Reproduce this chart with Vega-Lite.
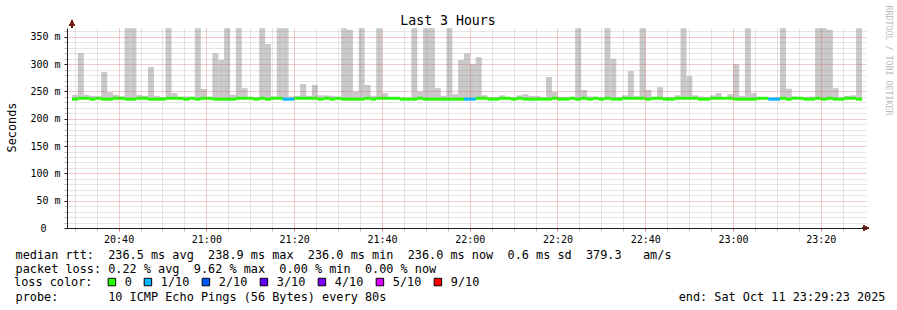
{
"$schema": "https://vega.github.io/schema/vega-lite/v6.json",
"width": 800, "height": 200,
"autosize": {"type": "none"},
"padding": {"left": 67, "top": 28, "right": 30, "bottom": 82},
"background": "#ffffff",
"config": {"view": {"stroke": null}, "font": "DejaVu Sans Mono"},
"title": {"text": "Last 3 Hours", "font": "DejaVu Sans Mono", "fontSize": 13.2, "fontWeight": "normal", "color": "#000000", "anchor": "middle", "frame": "group", "dx": -19, "dy": 37, "offset": 4, "baseline": "alphabetic"},
"data": {"values": [
{"t":"2025-10-11T20:30:03","h":244,"m":235.9,"l":0},
{"t":"2025-10-11T20:31:23","h":320.5,"m":237.6,"l":0},
{"t":"2025-10-11T20:32:43","h":244,"m":237.6,"l":0},
{"t":"2025-10-11T20:34:03","h":242,"m":235.9,"l":0},
{"t":"2025-10-11T20:35:23","h":241,"m":237.6,"l":0},
{"t":"2025-10-11T20:36:43","h":285.7,"m":235.9,"l":0},
{"t":"2025-10-11T20:38:03","h":249,"m":235.9,"l":0},
{"t":"2025-10-11T20:39:23","h":244,"m":237.6,"l":0},
{"t":"2025-10-11T20:40:43","h":241,"m":237.6,"l":0},
{"t":"2025-10-11T20:42:03","h":366,"m":235.9,"l":0},
{"t":"2025-10-11T20:43:23","h":366,"m":235.9,"l":0},
{"t":"2025-10-11T20:44:43","h":244,"m":237.6,"l":0},
{"t":"2025-10-11T20:46:03","h":242,"m":237.6,"l":0},
{"t":"2025-10-11T20:47:23","h":295,"m":235.9,"l":0},
{"t":"2025-10-11T20:48:43","h":242,"m":235.9,"l":0},
{"t":"2025-10-11T20:50:03","h":240,"m":235.9,"l":0},
{"t":"2025-10-11T20:51:23","h":366,"m":237.6,"l":0},
{"t":"2025-10-11T20:52:43","h":247,"m":237.6,"l":0},
{"t":"2025-10-11T20:54:03","h":240,"m":237.6,"l":0},
{"t":"2025-10-11T20:55:23","h":241,"m":235.9,"l":0},
{"t":"2025-10-11T20:56:43","h":240,"m":237.6,"l":0},
{"t":"2025-10-11T20:58:03","h":366,"m":235.9,"l":0},
{"t":"2025-10-11T20:59:23","h":254.6,"m":237.6,"l":0},
{"t":"2025-10-11T21:00:43","h":240,"m":237.6,"l":0},
{"t":"2025-10-11T21:02:03","h":320,"m":235.9,"l":0},
{"t":"2025-10-11T21:03:23","h":308,"m":235.9,"l":0},
{"t":"2025-10-11T21:04:43","h":366,"m":235.9,"l":0},
{"t":"2025-10-11T21:06:03","h":244,"m":235.9,"l":0},
{"t":"2025-10-11T21:07:23","h":366,"m":237.6,"l":0},
{"t":"2025-10-11T21:08:43","h":256,"m":237.6,"l":0},
{"t":"2025-10-11T21:10:03","h":240,"m":237.6,"l":0},
{"t":"2025-10-11T21:11:23","h":240,"m":235.9,"l":0},
{"t":"2025-10-11T21:12:43","h":366,"m":237.6,"l":0},
{"t":"2025-10-11T21:14:03","h":337,"m":235.9,"l":0},
{"t":"2025-10-11T21:15:23","h":241,"m":237.6,"l":0},
{"t":"2025-10-11T21:16:43","h":366,"m":237.6,"l":0},
{"t":"2025-10-11T21:18:03","h":366,"m":235.9,"l":1},
{"t":"2025-10-11T21:19:23","h":241,"m":235.9,"l":1},
{"t":"2025-10-11T21:20:43","h":242,"m":237.6,"l":0},
{"t":"2025-10-11T21:22:03","h":263.7,"m":237.6,"l":0},
{"t":"2025-10-11T21:23:23","h":242,"m":237.6,"l":0},
{"t":"2025-10-11T21:24:43","h":262,"m":237.6,"l":0},
{"t":"2025-10-11T21:26:03","h":243,"m":235.9,"l":0},
{"t":"2025-10-11T21:27:23","h":243,"m":237.6,"l":0},
{"t":"2025-10-11T21:28:43","h":242,"m":235.9,"l":0},
{"t":"2025-10-11T21:30:03","h":240,"m":237.6,"l":0},
{"t":"2025-10-11T21:31:23","h":366,"m":235.9,"l":0},
{"t":"2025-10-11T21:32:43","h":363,"m":235.9,"l":0},
{"t":"2025-10-11T21:34:03","h":250,"m":235.9,"l":0},
{"t":"2025-10-11T21:35:23","h":366,"m":235.9,"l":0},
{"t":"2025-10-11T21:36:43","h":262,"m":237.6,"l":0},
{"t":"2025-10-11T21:38:03","h":242,"m":235.9,"l":0},
{"t":"2025-10-11T21:39:23","h":366,"m":237.6,"l":0},
{"t":"2025-10-11T21:40:43","h":247,"m":237.6,"l":0},
{"t":"2025-10-11T21:42:03","h":240,"m":237.6,"l":0},
{"t":"2025-10-11T21:43:23","h":240,"m":237.6,"l":0},
{"t":"2025-10-11T21:44:43","h":239,"m":235.9,"l":0},
{"t":"2025-10-11T21:46:03","h":239,"m":235.9,"l":0},
{"t":"2025-10-11T21:47:23","h":366,"m":235.9,"l":0},
{"t":"2025-10-11T21:48:43","h":250,"m":237.6,"l":0},
{"t":"2025-10-11T21:50:03","h":366,"m":235.9,"l":0},
{"t":"2025-10-11T21:51:23","h":366,"m":235.9,"l":0},
{"t":"2025-10-11T21:52:43","h":256,"m":235.9,"l":0},
{"t":"2025-10-11T21:54:03","h":242,"m":235.9,"l":0},
{"t":"2025-10-11T21:55:23","h":366,"m":235.9,"l":0},
{"t":"2025-10-11T21:56:43","h":245,"m":235.9,"l":0},
{"t":"2025-10-11T21:58:03","h":308,"m":235.9,"l":0},
{"t":"2025-10-11T21:59:23","h":320,"m":235.9,"l":1},
{"t":"2025-10-11T22:00:43","h":300,"m":235.9,"l":1},
{"t":"2025-10-11T22:02:03","h":313,"m":237.6,"l":0},
{"t":"2025-10-11T22:03:23","h":243,"m":237.6,"l":0},
{"t":"2025-10-11T22:04:43","h":240,"m":235.9,"l":0},
{"t":"2025-10-11T22:06:03","h":240,"m":235.9,"l":0},
{"t":"2025-10-11T22:07:23","h":243,"m":237.6,"l":0},
{"t":"2025-10-11T22:08:43","h":240,"m":237.6,"l":0},
{"t":"2025-10-11T22:10:03","h":240,"m":235.9,"l":0},
{"t":"2025-10-11T22:11:23","h":243,"m":237.6,"l":0},
{"t":"2025-10-11T22:12:43","h":245,"m":235.9,"l":0},
{"t":"2025-10-11T22:14:03","h":242,"m":235.9,"l":0},
{"t":"2025-10-11T22:15:23","h":242,"m":235.9,"l":0},
{"t":"2025-10-11T22:16:43","h":240,"m":235.9,"l":0},
{"t":"2025-10-11T22:18:03","h":276.6,"m":235.9,"l":0},
{"t":"2025-10-11T22:19:23","h":249,"m":237.6,"l":0},
{"t":"2025-10-11T22:20:43","h":240,"m":235.9,"l":0},
{"t":"2025-10-11T22:22:03","h":240,"m":235.9,"l":0},
{"t":"2025-10-11T22:23:23","h":240,"m":237.6,"l":0},
{"t":"2025-10-11T22:24:43","h":366,"m":235.9,"l":0},
{"t":"2025-10-11T22:26:03","h":252.7,"m":237.6,"l":0},
{"t":"2025-10-11T22:27:23","h":241,"m":235.9,"l":0},
{"t":"2025-10-11T22:28:43","h":240,"m":237.6,"l":0},
{"t":"2025-10-11T22:30:03","h":240,"m":235.9,"l":0},
{"t":"2025-10-11T22:31:23","h":366,"m":237.6,"l":0},
{"t":"2025-10-11T22:32:43","h":310,"m":235.9,"l":0},
{"t":"2025-10-11T22:34:03","h":240,"m":235.9,"l":0},
{"t":"2025-10-11T22:35:23","h":243,"m":237.6,"l":0},
{"t":"2025-10-11T22:36:43","h":287.5,"m":237.6,"l":0},
{"t":"2025-10-11T22:38:03","h":241,"m":237.6,"l":0},
{"t":"2025-10-11T22:39:23","h":366,"m":237.6,"l":0},
{"t":"2025-10-11T22:40:43","h":253,"m":235.9,"l":0},
{"t":"2025-10-11T22:42:03","h":240,"m":237.6,"l":0},
{"t":"2025-10-11T22:43:23","h":258,"m":237.6,"l":0},
{"t":"2025-10-11T22:44:43","h":240,"m":235.9,"l":0},
{"t":"2025-10-11T22:46:03","h":240,"m":235.9,"l":0},
{"t":"2025-10-11T22:47:23","h":243,"m":237.6,"l":0},
{"t":"2025-10-11T22:48:43","h":366,"m":237.6,"l":0},
{"t":"2025-10-11T22:50:03","h":278,"m":237.6,"l":0},
{"t":"2025-10-11T22:51:23","h":243,"m":237.6,"l":0},
{"t":"2025-10-11T22:52:43","h":241,"m":235.9,"l":0},
{"t":"2025-10-11T22:54:03","h":240,"m":235.9,"l":0},
{"t":"2025-10-11T22:55:23","h":243,"m":237.6,"l":0},
{"t":"2025-10-11T22:56:43","h":247,"m":237.6,"l":0},
{"t":"2025-10-11T22:58:03","h":240,"m":237.6,"l":0},
{"t":"2025-10-11T22:59:23","h":245,"m":237.6,"l":0},
{"t":"2025-10-11T23:00:43","h":300,"m":235.9,"l":0},
{"t":"2025-10-11T23:02:03","h":242,"m":235.9,"l":0},
{"t":"2025-10-11T23:03:23","h":366,"m":235.9,"l":0},
{"t":"2025-10-11T23:04:43","h":247,"m":235.9,"l":0},
{"t":"2025-10-11T23:06:03","h":239,"m":237.6,"l":0},
{"t":"2025-10-11T23:07:23","h":239,"m":237.6,"l":0},
{"t":"2025-10-11T23:08:43","h":239,"m":235.9,"l":1},
{"t":"2025-10-11T23:10:03","h":240,"m":235.9,"l":1},
{"t":"2025-10-11T23:11:23","h":366,"m":237.6,"l":0},
{"t":"2025-10-11T23:12:43","h":255,"m":235.9,"l":0},
{"t":"2025-10-11T23:14:03","h":241,"m":237.6,"l":0},
{"t":"2025-10-11T23:15:23","h":240,"m":237.6,"l":0},
{"t":"2025-10-11T23:16:43","h":240,"m":235.9,"l":0},
{"t":"2025-10-11T23:18:03","h":241,"m":235.9,"l":0},
{"t":"2025-10-11T23:19:23","h":366,"m":237.6,"l":0},
{"t":"2025-10-11T23:20:43","h":366,"m":235.9,"l":0},
{"t":"2025-10-11T23:22:03","h":363,"m":237.6,"l":0},
{"t":"2025-10-11T23:23:23","h":256,"m":235.9,"l":0},
{"t":"2025-10-11T23:24:43","h":240,"m":235.9,"l":0},
{"t":"2025-10-11T23:26:03","h":242,"m":237.6,"l":0},
{"t":"2025-10-11T23:27:23","h":243,"m":237.6,"l":0},
{"t":"2025-10-11T23:28:43","h":366,"m":235.9,"l":0}
]},
"layer": [
{
"mark": {"type": "bar", "width": 6, "color": "#c9c9c9", "opacity": 1},
"encoding": {
"x": {"field": "t", "type": "temporal",
"scale": {"domain": [{"year": 2025, "month": 10, "date": 11, "hours": 20, "minutes": 29, "seconds": 23}, {"year": 2025, "month": 10, "date": 11, "hours": 23, "minutes": 29, "seconds": 23}], "nice": false},
"axis": {
"orient": "bottom",
"values": [
{"year": 2025, "month": 10, "date": 11, "hours": 20, "minutes": 30},
{"year": 2025, "month": 10, "date": 11, "hours": 20, "minutes": 35},
{"year": 2025, "month": 10, "date": 11, "hours": 20, "minutes": 40},
{"year": 2025, "month": 10, "date": 11, "hours": 20, "minutes": 45},
{"year": 2025, "month": 10, "date": 11, "hours": 20, "minutes": 50},
{"year": 2025, "month": 10, "date": 11, "hours": 20, "minutes": 55},
{"year": 2025, "month": 10, "date": 11, "hours": 21, "minutes": 0},
{"year": 2025, "month": 10, "date": 11, "hours": 21, "minutes": 5},
{"year": 2025, "month": 10, "date": 11, "hours": 21, "minutes": 10},
{"year": 2025, "month": 10, "date": 11, "hours": 21, "minutes": 15},
{"year": 2025, "month": 10, "date": 11, "hours": 21, "minutes": 20},
{"year": 2025, "month": 10, "date": 11, "hours": 21, "minutes": 25},
{"year": 2025, "month": 10, "date": 11, "hours": 21, "minutes": 30},
{"year": 2025, "month": 10, "date": 11, "hours": 21, "minutes": 35},
{"year": 2025, "month": 10, "date": 11, "hours": 21, "minutes": 40},
{"year": 2025, "month": 10, "date": 11, "hours": 21, "minutes": 45},
{"year": 2025, "month": 10, "date": 11, "hours": 21, "minutes": 50},
{"year": 2025, "month": 10, "date": 11, "hours": 21, "minutes": 55},
{"year": 2025, "month": 10, "date": 11, "hours": 22, "minutes": 0},
{"year": 2025, "month": 10, "date": 11, "hours": 22, "minutes": 5},
{"year": 2025, "month": 10, "date": 11, "hours": 22, "minutes": 10},
{"year": 2025, "month": 10, "date": 11, "hours": 22, "minutes": 15},
{"year": 2025, "month": 10, "date": 11, "hours": 22, "minutes": 20},
{"year": 2025, "month": 10, "date": 11, "hours": 22, "minutes": 25},
{"year": 2025, "month": 10, "date": 11, "hours": 22, "minutes": 30},
{"year": 2025, "month": 10, "date": 11, "hours": 22, "minutes": 35},
{"year": 2025, "month": 10, "date": 11, "hours": 22, "minutes": 40},
{"year": 2025, "month": 10, "date": 11, "hours": 22, "minutes": 45},
{"year": 2025, "month": 10, "date": 11, "hours": 22, "minutes": 50},
{"year": 2025, "month": 10, "date": 11, "hours": 22, "minutes": 55},
{"year": 2025, "month": 10, "date": 11, "hours": 23, "minutes": 0},
{"year": 2025, "month": 10, "date": 11, "hours": 23, "minutes": 5},
{"year": 2025, "month": 10, "date": 11, "hours": 23, "minutes": 10},
{"year": 2025, "month": 10, "date": 11, "hours": 23, "minutes": 15},
{"year": 2025, "month": 10, "date": 11, "hours": 23, "minutes": 20},
{"year": 2025, "month": 10, "date": 11, "hours": 23, "minutes": 25}
],
"labelExpr": "minutes(datum.value) % 20 === 0 ? timeFormat(datum.value, '%H:%M') : ''",
"labelFont": "DejaVu Sans Mono", "labelFontSize": 10, "labelColor": "#000000", "labelPadding": 3, "labelFlush": false, "labelOverlap": false,
"grid": true,
"gridColor": {"condition": {"test": "minutes(datum.value) % 20 === 0", "value": "rgba(222,79,79,0.6)"}, "value": "rgba(143,143,143,0.45)"},
"gridDash": [1, 1], "gridWidth": 1,
"ticks": true, "tickSize": 3,
"tickColor": {"condition": {"test": "minutes(datum.value) % 20 === 0", "value": "rgba(222,79,79,0.8)"}, "value": "rgba(143,143,143,0.6)"},
"domainColor": "#1f1f1f", "domainWidth": 1,
"title": ["median\u00a0rtt:\u00a0\u00a0236.5\u00a0ms\u00a0avg\u00a0\u00a0238.9\u00a0ms\u00a0max\u00a0\u00a0236.0\u00a0ms\u00a0min\u00a0\u00a0236.0\u00a0ms\u00a0now\u00a0\u00a00.6\u00a0ms\u00a0sd\u00a0\u00a0379.3\u00a0\u00a0\u00a0am/s",
"packet\u00a0loss:\u00a00.22\u00a0%\u00a0avg\u00a0\u00a09.62\u00a0%\u00a0max\u00a0\u00a00.00\u00a0%\u00a0min\u00a0\u00a00.00\u00a0%\u00a0now",
"\u2800",
"probe:\u00a0\u00a0\u00a0\u00a0\u00a0\u00a0\u00a010\u00a0ICMP\u00a0Echo\u00a0Pings\u00a0(56\u00a0Bytes)\u00a0every\u00a080s\u00a0\u00a0\u00a0\u00a0\u00a0\u00a0\u00a0\u00a0\u00a0\u00a0\u00a0\u00a0\u00a0\u00a0\u00a0\u00a0\u00a0\u00a0\u00a0\u00a0\u00a0\u00a0\u00a0\u00a0\u00a0\u00a0\u00a0\u00a0\u00a0\u00a0\u00a0\u00a0\u00a0\u00a0\u00a0\u00a0\u00a0\u00a0\u00a0\u00a0\u00a0end:\u00a0Sat\u00a0Oct\u00a011\u00a023:29:23\u00a02025"],
"titleFont": "DejaVu Sans Mono", "titleFontSize": 11.85, "titleFontWeight": "normal", "titleColor": "#000000",
"titleAlign": "left", "titleAnchor": "start", "titleX": -52, "titleY": 21, "titleBaseline": "top", "titleLineHeight": 14,
"zindex": 1
}},
"y": {"field": "h", "type": "quantitative",
"scale": {"domain": [0, 366.3], "nice": false},
"axis": {
"values": [0, 10, 20, 30, 40, 50, 60, 70, 80, 90, 100, 110, 120, 130, 140, 150, 160, 170, 180, 190, 200, 210, 220, 230, 240, 250, 260, 270, 280, 290, 300, 310, 320, 330, 340, 350, 360],
"labelExpr": "datum.value % 50 === 0 ? (datum.value === 0 ? '0\u2800\u2800' : datum.value + '\u00a0m') : ''",
"labelFont": "DejaVu Sans Mono", "labelFontSize": 10, "labelColor": "#000000", "labelPadding": 4, "labelFlush": false, "labelOverlap": false,
"grid": true,
"gridColor": {"condition": {"test": "datum.value % 50 === 0", "value": "rgba(222,79,79,0.6)"}, "value": "rgba(143,143,143,0.45)"},
"gridDash": [1, 1], "gridWidth": 1,
"ticks": true, "tickSize": 3,
"tickColor": {"condition": {"test": "datum.value % 50 === 0", "value": "#1f1f1f"}, "value": "rgba(143,143,143,0.6)"},
"domainColor": "#1f1f1f", "domainWidth": 1,
"title": "Seconds", "titleFont": "DejaVu Sans Mono", "titleFontSize": 11.85, "titleFontWeight": "normal", "titleColor": "#000000",
"titleX": -51.5, "titleY": 99, "titleBaseline": "alphabetic", "titleAlign": "center",
"zindex": 1
}},
"y2": {"datum": 236}
}
},
{
"mark": {"type": "tick", "orient": "horizontal", "size": 6, "thickness": 3, "opacity": 1},
"encoding": {
"x": {"field": "t", "type": "temporal", "axis": null},
"y": {"field": "m", "type": "quantitative",
"axis": {"orient": "right", "title": "RRDTOOL / TOBI OETIKER", "labels": false, "ticks": false, "domain": false, "grid": false,
"titleAngle": 90, "titleFont": "DejaVu Sans Mono", "titleFontSize": 8.3, "titleFontWeight": "normal", "titleColor": "#bbbbbb",
"titleX": 20.5, "titleY": 32, "titleAlign": "center", "titleBaseline": "middle"}},
"color": {"field": "l", "type": "ordinal",
"scale": {"domain": [0, 1, 2, 3, 4, 5, 9], "range": ["#26ff00", "#00b8ff", "#0059ff", "#5e00ff", "#7e00ff", "#dd00ff", "#ff0000"]},
"legend": {
"title": "loss color:", "orient": "none", "legendX": -53, "legendY": 248, "direction": "horizontal",
"titleOrient": "left", "titleFont": "DejaVu Sans Mono", "titleFontSize": 11.85, "titleFontWeight": "normal", "titleColor": "#000000", "titlePadding": 13,
"labelFont": "DejaVu Sans Mono", "labelFontSize": 11.85, "labelColor": "#000000", "labelOffset": 7,
"labelExpr": "datum.value == 0 ? '0' : datum.value + '/10'",
"symbolType": "square", "symbolSize": 56, "symbolStrokeColor": "#000000", "symbolStrokeWidth": 1, "symbolOpacity": 1,
"columnPadding": 10, "padding": 0, "rowPadding": 0,
"encode": {"symbols": {"update": {"stroke": {"value": "#000000"}, "strokeWidth": {"value": 1}, "opacity": {"value": 1}}}}
}}
}
},
{
"mark": {"type": "rule", "color": "#1f1f1f"},
"encoding": {
"x": {"datum": {"year": 2025, "month": 10, "date": 11, "hours": 20, "minutes": 29, "seconds": 23}, "type": "temporal", "axis": null},
"y": {"datum": 366.3, "type": "quantitative", "axis": null},
"y2": {"datum": 374}
}
},
{
"mark": {"type": "rule", "color": "#1f1f1f"},
"encoding": {
"x": {"datum": {"year": 2025, "month": 10, "date": 11, "hours": 23, "minutes": 29, "seconds": 23}, "type": "temporal", "axis": null},
"x2": {"datum": {"year": 2025, "month": 10, "date": 11, "hours": 23, "minutes": 29, "seconds": 55}},
"y": {"datum": 0, "type": "quantitative", "axis": null}
}
},
{
"mark": {"type": "point", "shape": "triangle-up", "filled": true, "color": "#801f1f", "size": 28, "opacity": 1},
"encoding": {
"x": {"datum": {"year": 2025, "month": 10, "date": 11, "hours": 20, "minutes": 29, "seconds": 23}, "type": "temporal", "axis": null},
"y": {"datum": 375.5, "type": "quantitative", "axis": null}
}
},
{
"mark": {"type": "point", "shape": "triangle-right", "filled": true, "color": "#801f1f", "size": 28, "opacity": 1},
"encoding": {
"x": {"datum": {"year": 2025, "month": 10, "date": 11, "hours": 23, "minutes": 30, "seconds": 17}, "type": "temporal", "axis": null},
"y": {"datum": 0, "type": "quantitative", "axis": null}
}
}
],
"resolve": {"axis": {"x": "independent", "y": "independent"}}
}
